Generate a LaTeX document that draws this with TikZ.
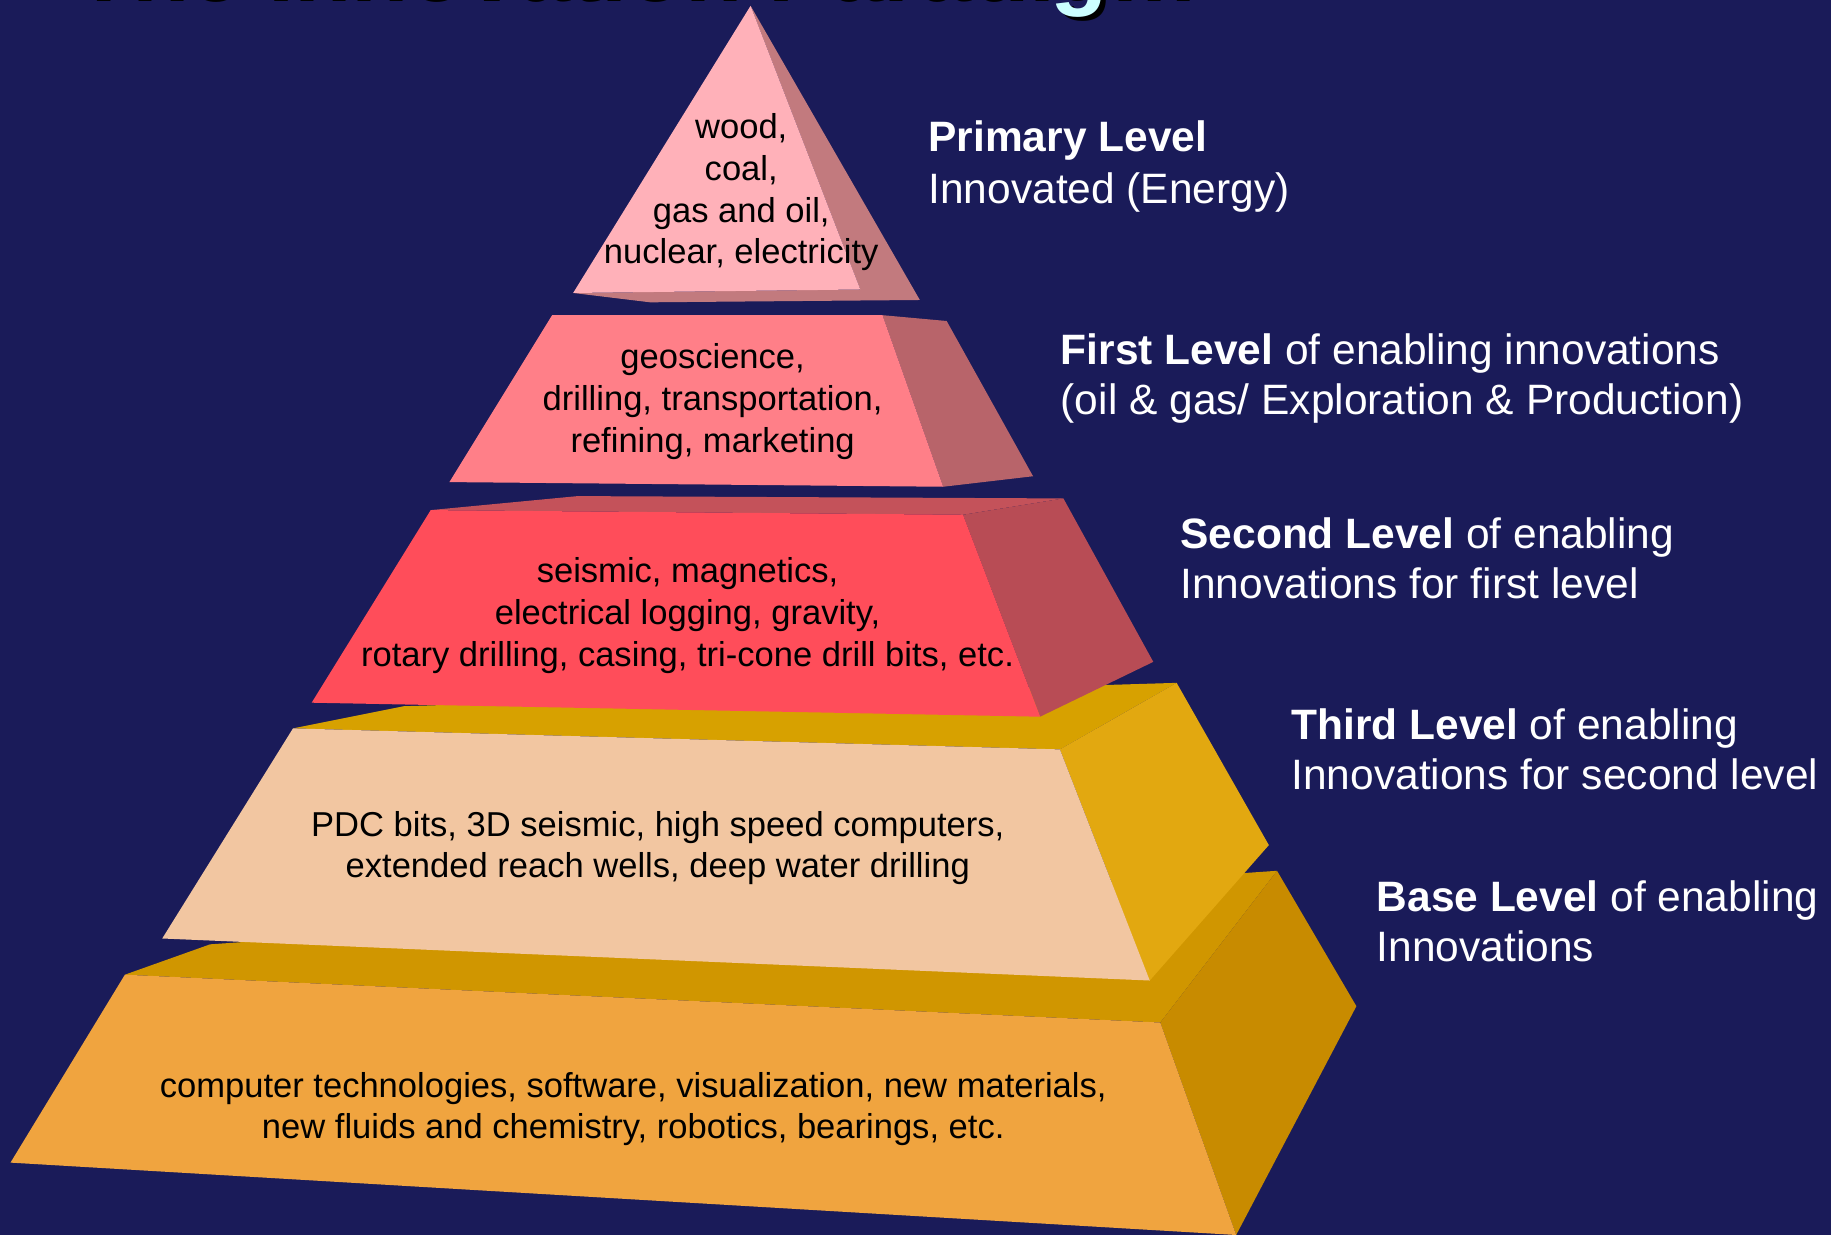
\documentclass[tikz,border=0pt]{standalone}
\usepackage{fontspec}
\setmainfont{Liberation Sans}
\definecolor{bgnavy}{RGB}{26,27,89}
\definecolor{aFront}{RGB}{255,177,185}
\definecolor{aSide}{RGB}{194,122,126}
\definecolor{bFront}{RGB}{255,127,136}
\definecolor{bSide}{RGB}{184,100,106}
\definecolor{cFront}{RGB}{255,77,90}
\definecolor{cTop}{RGB}{196,82,90}
\definecolor{cSide}{RGB}{184,76,85}
\definecolor{dFront}{RGB}{242,198,161}
\definecolor{dTop}{RGB}{215,161,0}
\definecolor{dSide}{RGB}{226,168,16}
\definecolor{eFront}{RGB}{240,164,63}
\definecolor{eTop}{RGB}{208,150,0}
\definecolor{eSide}{RGB}{200,139,0}
\definecolor{titlecyan}{RGB}{204,255,255}
\tikzset{
  face/.style={draw=none},
  tiertext/.style={anchor=base, inner sep=0pt, text=black, font=\fontsize{14.8}{18}\selectfont},
  lvltext/.style={anchor=base west, inner sep=0pt, text=white, font=\fontsize{18.2}{22}\selectfont},
  titletext/.style={anchor=base west, inner sep=0pt, font=\fontsize{40.2}{48}\selectfont\bfseries}
}
\begin{document}
\begin{tikzpicture}[x=0.5pt,y=-0.5pt]
\useasboundingbox (0,0) rectangle (1568.6,1058);
\clip (0,0) rectangle (1568.6,1058);
\fill[bgnavy] (0,0) rectangle (1568.6,1058);

% title (cut off at top edge, as in the reference)
\node[titletext, text=black] (titleshadow) at (64,1.5) {The Innovation Paradigm};
\node[titletext, text=titlecyan] (title) at (60,-2.5) {The Innovation Paradigm};

% base tier
\fill[face, eTop] (107,835) -- (180,809) -- (1094,746) -- (994,876) -- cycle;
\fill[face, eSide] (994,876) -- (1094,746) -- (1162,862) -- (1059,1058) -- cycle;
\fill[face, eFront] (107,835) -- (994,876) -- (1059,1058) -- (9,996) -- cycle;

% third tier
\fill[face, dTop] (251,624) -- (346,605) -- (1008,585) -- (908,642) -- cycle;
\fill[face, dSide] (908,642) -- (1008,585) -- (1087,724) -- (985,840) -- cycle;
\fill[face, dFront] (251,624) -- (908,642) -- (985,840) -- (139,804) -- cycle;

% second tier
\fill[face, cTop] (369,437) -- (495,425) -- (911,427) -- (825,441) -- cycle;
\fill[face, cSide] (825,441) -- (911,427) -- (988,567) -- (891,614) -- cycle;
\fill[face, cFront] (369,437) -- (825,441) -- (891,614) -- (267,602) -- cycle;

% first tier
\fill[face, bSide] (756,270) -- (811,275) -- (885,408) -- (808,417) -- cycle;
\fill[face, bFront] (473,270) -- (756,270) -- (808,417) -- (385,413) -- cycle;

% primary tier (apex)
\fill[face, aSide] (643,5) -- (788,257) -- (557,259) -- (491,251) -- (737,248) -- cycle;
\fill[face, aFront] (643,5) -- (737,248) -- (491,251) -- cycle;

% tier texts
\node[tiertext] (t1a) at (635,119) {wood,};
\node[tiertext] (t1b) at (635,155) {coal,};
\node[tiertext] (t1c) at (635,191) {gas and oil,};
\node[tiertext] (t1d) at (635,226) {nuclear, electricity};

\node[tiertext] (t2a) at (610.5,316) {geoscience,};
\node[tiertext] (t2b) at (610.5,352) {drilling, transportation,};
\node[tiertext] (t2c) at (610.5,388) {refining, marketing};

\node[tiertext] (t3a) at (589,499) {seismic, magnetics,};
\node[tiertext] (t3b) at (589,535) {electrical logging, gravity,};
\node[tiertext] (t3c) at (589,571) {rotary drilling, casing, tri-cone drill bits, etc.};

\node[tiertext] (t4a) at (563.5,717) {PDC bits, 3D seismic, high speed computers,};
\node[tiertext] (t4b) at (563.5,752) {extended reach wells, deep water drilling};

\node[tiertext] (t5a) at (542.5,940) {computer technologies, software, visualization, new materials,};
\node[tiertext] (t5b) at (542.5,975) {new fluids and chemistry, robotics, bearings, etc.};

% level labels
\node[lvltext] (l1a) at (795,130) {\textbf{Primary Level}};
\node[lvltext] (l1b) at (795,174) {Innovated (Energy)};
\node[lvltext] (l2a) at (908.4,312) {\textbf{First Level} of enabling innovations};
\node[lvltext] (l2b) at (908.4,355.5) {(oil \& gas/ Exploration \& Production)};
\node[lvltext] (l3a) at (1010.9,469.5) {\textbf{Second Level} of enabling};
\node[lvltext] (l3b) at (1010.9,512.5) {Innovations for first level};
\node[lvltext] (l4a) at (1106,633.5) {\textbf{Third Level} of enabling};
\node[lvltext] (l4b) at (1106,676.5) {Innovations for second level};
\node[lvltext] (l5a) at (1179,780.5) {\textbf{Base Level} of enabling};
\node[lvltext] (l5b) at (1179,823.5) {Innovations};
\end{tikzpicture}
\end{document}
